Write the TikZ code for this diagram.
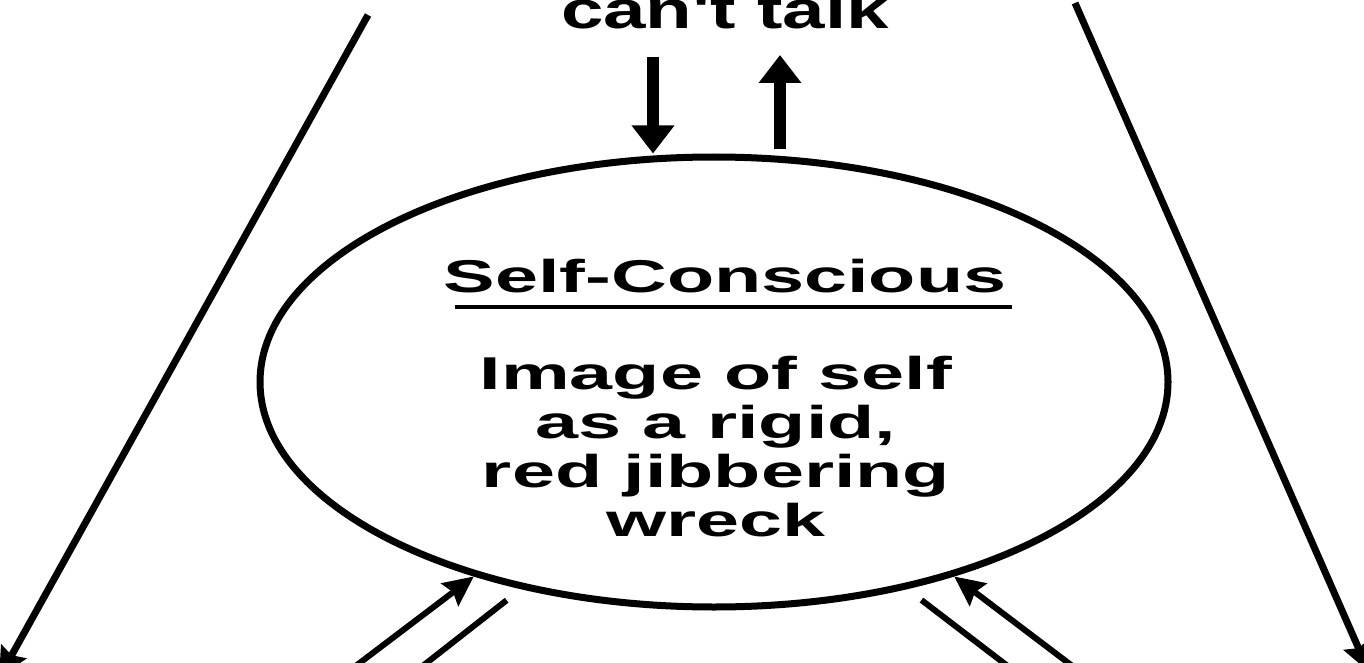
\documentclass[tikz,border=0pt]{standalone}
\usepackage{fontspec}
\newfontfamily\talkfont[FakeStretch=1.44]{Liberation Sans}
\newfontfamily\selffont[FakeStretch=1.68]{Liberation Sans}
\usetikzlibrary{calc,positioning,shapes.geometric,arrows.meta}

\begin{document}
\begin{tikzpicture}[x=1pt,y=1pt,
    oval/.style={draw,ellipse,line width=7pt,inner sep=0pt,minimum width=908pt,minimum height=450pt},
    tx/.style={inner sep=0pt,font=\selffont\bfseries\fontsize{46pt}{49pt}\selectfont},
    fat/.style={-{Triangle[length=28pt,width=41pt]},line width=12pt},
    ar/.style={-{Stealth[length=30pt,width=28pt,inset=4pt]},line width=6pt},
    ln/.style={line width=6pt}]
  \useasboundingbox (0,0) rectangle (1364,-663);
  \node[inner sep=0pt,anchor=base,font=\talkfont\bfseries\fontsize{53pt}{58pt}\selectfont] (talk) at (725,-29) {can't talk};
  \node[oval] (self) at (714,-382) {};
  \node[tx,anchor=base] (head) at (725,-292) {Self-Conscious};
  \draw[line width=4pt] ([xshift=11pt,yshift=-15pt]head.base west) -- ([xshift=6pt,yshift=-15pt]head.base east);
  \node[tx,anchor=north,align=center] (img) at (716,-355.5) {Image of self\\as a rigid,\\red jibbering\\wreck};
  % up and down between the two
  \draw[fat] ([xshift=-72pt,yshift=-28pt]talk.base) -- ([xshift=-61pt]self.north);
  \draw[fat] ([xshift=66pt,yshift=4pt]self.north) -- ([xshift=55pt,yshift=-26pt]talk.base);
  % long lines to the corners
  \coordinate (tl) at (368,-15);
  \coordinate (bl) at (-1,-678);
  \coordinate (tr) at (1075,-3);
  \coordinate (br) at (1369,-672);
  \draw[ar,line width=7pt] (tl) -- (bl);
  \draw[ar,line width=7pt] (tr) -- (br);
  % pairs below the oval
  \coordinate (lin) at (324,-690);
  \coordinate (lout) at (392,-690);
  \coordinate (rin) at (1104,-690);
  \coordinate (rout) at (1039,-690);
  \draw[ar] (lin) -- (self.219);
  \draw[ln,shorten <=18pt] (self.227) -- (lout);
  \draw[ar] (rin) -- (self.321);
  \draw[ln,shorten <=18pt] (self.313) -- (rout);
\end{tikzpicture}
\end{document}
